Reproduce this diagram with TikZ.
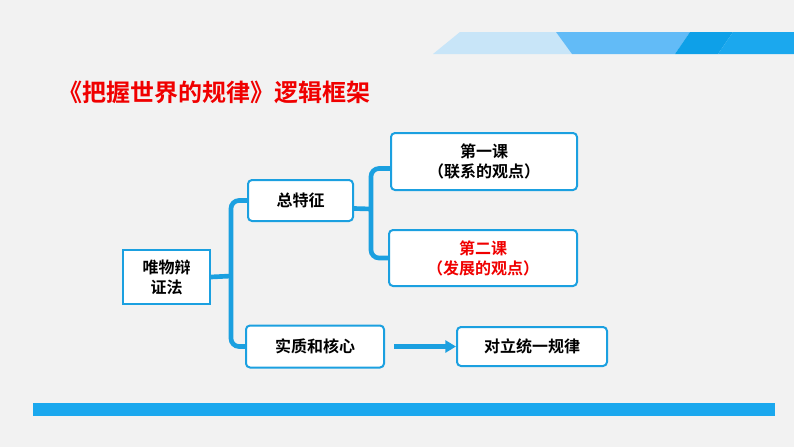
\documentclass[tikz,border=0pt]{standalone}
\usepackage{fontspec}
\newfontfamily\cjk{Noto Sans CJK SC Bold}
\newfontfamily\cjkb{Noto Sans CJK SC Bold}
\definecolor{bg}{HTML}{F2F2F2}
\definecolor{lb}{HTML}{C8E5F8}
\definecolor{mb}{HTML}{62BBF7}
\definecolor{db}{HTML}{0EA0E8}
\definecolor{rb}{HTML}{1BA8EE}
\definecolor{ln}{HTML}{1BA0E0}
\definecolor{tr}{HTML}{F00000}
\usetikzlibrary{arrows.meta}
\begin{document}
\begin{tikzpicture}[x=0.75pt,y=-0.75pt,
  box/.style={draw=ln,line width=1.5pt,fill=white,rounded corners=3pt,font=\cjk\fontsize{12}{15}\selectfont,align=center,inner sep=0pt},
  brace/.style={draw=ln,line width=3.5pt,rounded corners=6pt}]
\fill[bg] (0,0) rectangle (794,447);
\useasboundingbox (0,0) rectangle (794,447);
\fill[lb] (433,54)--(460,32)--(556,32)--(572,54)--cycle;
\fill[mb] (556,32)--(690,32)--(675,54)--(572,54)--cycle;
\fill[db] (690,32)--(733,32)--(718,54)--(675,54)--cycle;
\fill[rb] (733,32)--(794,32)--(794,54)--(718,54)--cycle;
\fill[rb] (33,403) rectangle (775,416);
\node[anchor=west,text=tr,font=\cjkb\fontsize{18}{22}\selectfont,inner sep=0pt] (title) at (58,92) {《把握世界的规律》逻辑框架};
\node[box,rounded corners=0pt,minimum width=65pt,minimum height=40.5pt] (w) at (166.5,277) {唯物辩\\证法};
\node[box,minimum width=78.75pt,minimum height=30.75pt] (z) at (300.5,200.5) {总特征};
\node[box,minimum width=103.5pt,minimum height=31.5pt] (s) at (315,346.5) {实质和核心};
\node[box,minimum width=139.5pt,minimum height=42.75pt] (k1) at (484,161.5) {第一课\\（联系的观点）};
\node[box,minimum width=141pt,minimum height=42pt,text=tr] (k2) at (483,258) {第二课\\（发展的观点）};
\node[box,minimum width=112.5pt,minimum height=29.25pt] (d) at (532,346.5) {对立统一规律};
\coordinate (b1) at (231,276);
\draw[brace] (w.east) -- (b1);
\draw[brace] (z.west) -| (b1) |- (s.west);
\coordinate (b2) at (371,209);
\draw[brace] ([yshift=-6pt]z.east) -- (b2);
\draw[brace] ([yshift=-5.25pt]k1.west) -| (b2) |- ([yshift=0pt]k2.west);
\draw[draw=ln,line width=3.5pt,-{Triangle[length=8pt,width=9pt]}] ([xshift=7pt]s.east) -- (d.west);
\end{tikzpicture}
\end{document}
